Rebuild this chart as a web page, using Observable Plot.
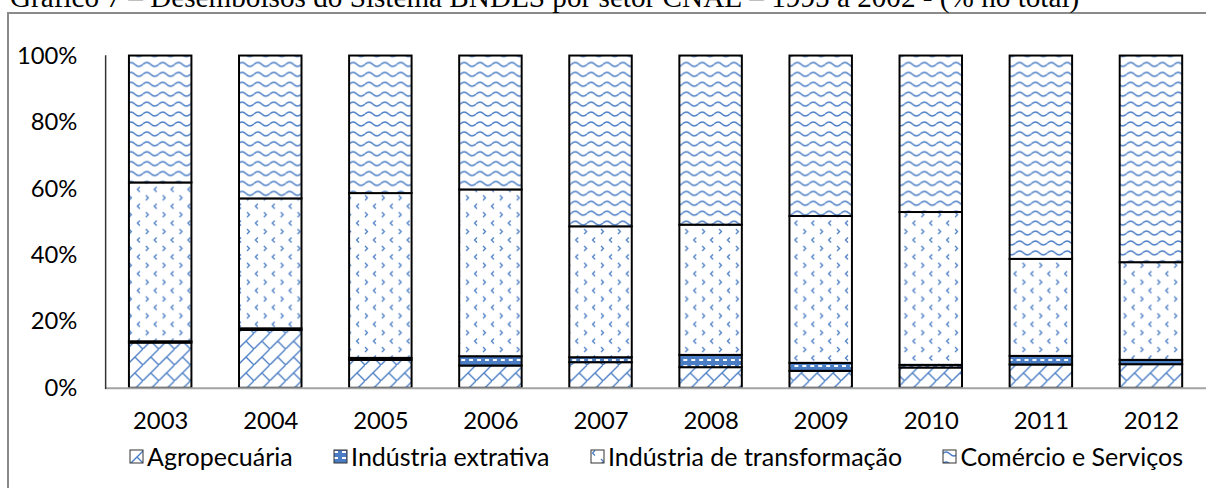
<!DOCTYPE html>
<html>
<head>
<meta charset="utf-8">
<script src="https://cdn.jsdelivr.net/npm/d3@7"></script>
<script src="https://cdn.jsdelivr.net/npm/@observablehq/plot@0.6"></script>
<style>
  html, body { margin: 0; padding: 0; overflow: hidden; background: #fff; width: 1206px; height: 488px; }
  #wrap { position: relative; width: 1206px; height: 488px; overflow: hidden; }
  #title { position: absolute; left: 10px; white-space: nowrap; font-family: "Liberation Serif", serif; line-height: 1; color: #000; }
  #frame { position: absolute; left: 7px; top: 12px; width: 1400px; height: 700px; border-left: 2px solid #8a8a8a; border-top: 2px solid #8a8a8a; }
  #chart { position: absolute; left: 0; top: 0; }
  #defs { position: absolute; width: 0; height: 0; left: 0; top: 0; }
  #legend { position: absolute; top: 440px; left: 129px; width: 1054px; height: 32px; display: flex; justify-content: space-between; align-items: center; font-family: Lato, sans-serif; font-size: 25px; color: #000; white-space: nowrap; }
  #legend .item { display: flex; align-items: center; }
  #legend svg { margin-right: 3px; }
</style>
</head>
<body>
<div id="wrap">
  <svg id="defs" width="0" height="0">
    <defs>
      <pattern id="pAgro" patternUnits="userSpaceOnUse" width="16" height="16">
        <rect width="16" height="16" fill="#fff"/>
        <path d="M-1,17 L17,-1 M8,8 L16,16" stroke="#4a7dc4" stroke-width="1.4" fill="none"/>
      </pattern>
      <pattern id="pExtr" patternUnits="userSpaceOnUse" width="8" height="6">
        <rect width="8" height="6" fill="#4a7dc4"/>
        <rect x="1" y="2" width="4" height="2" fill="#fff"/>
      </pattern>
      <pattern id="pTransf" patternUnits="userSpaceOnUse" width="17" height="17">
        <rect width="17" height="17" fill="#fff"/>
        <path d="M5,1.5 L2.5,4 L5,6.5 M11,10 L13.5,12.5 L11,15" stroke="#4a7dc4" stroke-width="1.3" fill="none"/>
      </pattern>
      <pattern id="pCom" patternUnits="userSpaceOnUse" width="16" height="10">
        <rect width="16" height="10" fill="#fff"/>
        <path d="M0,5 Q4,1 8,5 T16,5" stroke="#4a7dc4" stroke-width="1.4" fill="none"/>
      </pattern>
    </defs>
  </svg>
  <div id="frame"></div>
  <div id="title"></div>
  <div id="chart"></div>
  <div id="legend"></div>
</div>
<script>
const titleText = "Gráfico 7 – Desembolsos do Sistema BNDES por setor CNAE – 1995 a 2002 - (% no total)";
const years = ["2003", "2004", "2005", "2006", "2007", "2008", "2009", "2010", "2011", "2012"];
const sectors = ["Agropecuária", "Indústria extrativa", "Indústria de transformação", "Comércio e Serviços"];
const agropecuaria = [13.6, 17.4, 8.4, 6.7, 7.7, 6.2, 5.1, 6.1, 7.0, 7.1];
const extrativa = [0.4, 0.5, 0.6, 2.8, 1.5, 3.7, 2.4, 0.8, 2.6, 1.3];
const transformacao = [47.8, 39.1, 49.6, 50.2, 39.4, 39.2, 44.2, 46.0, 29.2, 29.4];
const comercio = [38.2, 43.0, 41.4, 40.3, 51.4, 50.9, 48.3, 47.1, 61.2, 62.2];
const yTicks = [0, 20, 40, 60, 80, 100];
const patternFills = ["url(#pAgro)", "url(#pExtr)", "url(#pTransf)", "url(#pCom)"];

// title
const title = document.getElementById("title");
title.textContent = titleText;
const ctx = document.createElement("canvas").getContext("2d");
ctx.font = '100px "Liberation Serif"';
const tw = ctx.measureText(titleText).width;
const fs = 1070 / tw * 100;
title.style.fontSize = fs + "px";
title.style.top = (7.5 - 0.8375 * fs) + "px";

// data table
const series = [agropecuaria, extrativa, transformacao, comercio];
const rows = [];
years.forEach((yr, i) => {
  sectors.forEach((s, j) => rows.push({year: yr, sector: s, value: series[j][i]}));
});

const chart = Plot.plot({
  width: 1216,
  height: 440,
  marginLeft: 106,
  marginRight: 0,
  marginTop: 56,
  marginBottom: 49,
  style: {fontFamily: "Lato, sans-serif", fontSize: "24px", color: "#000", background: "transparent", overflow: "visible"},
  x: {domain: years, paddingInner: 0.432, paddingOuter: 0.216, label: null},
  y: {domain: [0, 100], label: null},
  color: {domain: sectors, range: patternFills},
  marks: [
    Plot.barY(rows, {x: "year", y: "value", fill: "sector", stroke: "#000", strokeWidth: 2, order: sectors}),
    Plot.ruleY([0], {stroke: "#a3a3a3", strokeWidth: 2}),
    Plot.frame({anchor: "left", stroke: "#333", strokeWidth: 1.5}),
    Plot.axisX({tickSize: 0, tickPadding: 24, label: null, fontSize: 24}),
    Plot.axisY({ticks: yTicks, tickSize: 0, tickPadding: 28.5, tickFormat: d => d + "%", label: null, fontSize: 24})
  ]
});
document.getElementById("chart").appendChild(chart);

// legend
const legend = document.getElementById("legend");
sectors.forEach((s, j) => {
  const item = document.createElement("span");
  item.className = "item";
  item.innerHTML = `<svg width="15" height="15"><rect x="1" y="1" width="13" height="13" fill="${patternFills[j]}" stroke="#333" stroke-width="1"/></svg>`;
  const t = document.createElement("span");
  t.textContent = s;
  item.appendChild(t);
  legend.appendChild(item);
});
</script>
</body>
</html>
